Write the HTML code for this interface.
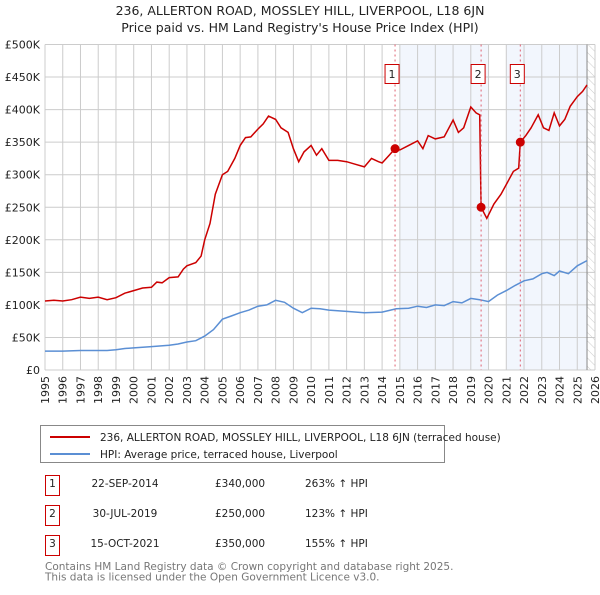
<!DOCTYPE html>
<html><head><meta charset="utf-8"><style>
body{margin:0;background:#fff;font-family:"Liberation Sans","DejaVu Sans",sans-serif;}
svg text{font-family:"DejaVu Sans","Liberation Sans",sans-serif;}
</style></head><body>
<svg id="c" width="600" height="590" xmlns="http://www.w3.org/2000/svg">
<defs><pattern id="hatch" width="6" height="6" patternUnits="userSpaceOnUse" patternTransform="rotate(-45)"><line x1="0" y1="0" x2="0" y2="6" stroke="#ccc" stroke-width="1"/></pattern></defs>
<text x="300" y="15" text-anchor="middle" font-size="12.5" fill="#222">236, ALLERTON ROAD, MOSSLEY HILL, LIVERPOOL, L18 6JN</text>
<text x="300" y="32" text-anchor="middle" font-size="12.5" fill="#222">Price paid vs. HM Land Registry's House Price Index (HPI)</text>
<g id="bg"></g><g id="grid"></g><g id="lines"></g><g id="marks"></g><g id="axes"></g>
<g>
<rect x="40.5" y="425.5" width="404" height="37" fill="#fff" stroke="#888"/>
<line x1="50" y1="437" x2="90" y2="437" stroke="#cc0000" stroke-width="2"/>
<text x="100" y="441" font-size="10.5" fill="#222">236, ALLERTON ROAD, MOSSLEY HILL, LIVERPOOL, L18 6JN (terraced house)</text>
<line x1="50" y1="454" x2="90" y2="454" stroke="#5b8fd4" stroke-width="2"/>
<text x="100" y="458" font-size="10.5" fill="#222">HPI: Average price, terraced house, Liverpool</text>
</g>
<g id="table" font-size="10.5" fill="#222"></g>
<text x="45" y="570" font-size="10.5" fill="#777">Contains HM Land Registry data © Crown copyright and database right 2025.</text>
<text x="45" y="580.5" font-size="10.5" fill="#777">This data is licensed under the Open Government Licence v3.0.</text>
</svg>
<script>
const NS="http://www.w3.org/2000/svg";
const yTicks=[0,50,100,150,200,250,300,350,400,450,500];
const yTickLabels=["£0","£50K","£100K","£150K","£200K","£250K","£300K","£350K","£400K","£450K","£500K"];
const xYears=[1995,1996,1997,1998,1999,2000,2001,2002,2003,2004,2005,2006,2007,2008,2009,2010,2011,2012,2013,2014,2015,2016,2017,2018,2019,2020,2021,2022,2023,2024,2025,2026];
const redT=[1995,1995.5,1996,1996.5,1997,1997.5,1998,1998.5,1999,1999.5,2000,2000.5,2001,2001.3,2001.6,2002,2002.5,2002.8,2003,2003.5,2003.8,2004,2004.3,2004.6,2005,2005.3,2005.7,2006,2006.3,2006.6,2007,2007.3,2007.6,2008,2008.3,2008.7,2009,2009.3,2009.6,2010,2010.3,2010.6,2011,2011.5,2012,2012.5,2013,2013.4,2013.8,2014,2014.4,2014.73,2015,2015.5,2016,2016.3,2016.6,2017,2017.5,2018,2018.3,2018.6,2019,2019.3,2019.5,2019.58,2019.9,2020.3,2020.7,2021,2021.4,2021.7,2021.79,2022.1,2022.4,2022.8,2023.1,2023.4,2023.7,2024,2024.3,2024.6,2025,2025.3,2025.55];
const redV=[106,107,106,108,112,110,112,108,111,118,122,126,127,135,134,142,143,155,160,165,175,200,225,270,300,305,325,345,357,358,370,378,390,385,372,365,340,320,335,345,330,340,322,322,320,316,312,325,320,318,330,340,338,345,352,340,360,355,358,384,365,372,404,395,392,250,233,255,270,285,305,310,350,360,372,392,372,368,395,375,385,405,420,428,438];
const blueT=[1995,1996,1997,1998,1998.5,1999,1999.5,2000,2001,2002,2002.5,2003,2003.5,2004,2004.5,2005,2005.5,2006,2006.5,2007,2007.5,2008,2008.5,2009,2009.5,2010,2010.5,2011,2012,2013,2014,2014.8,2015.5,2016,2016.5,2017,2017.5,2018,2018.5,2019,2019.5,2020,2020.5,2021,2021.5,2022,2022.5,2023,2023.3,2023.7,2024,2024.5,2025,2025.55];
const blueV=[29,29,30,30,30,31,33,34,36,38,40,43,45,52,62,78,83,88,92,98,100,107,104,95,88,95,94,92,90,88,89,94,95,98,96,100,99,105,103,110,108,105,115,122,130,137,140,148,150,145,152,148,160,168];
const saleT=[2014.73,2019.58,2021.79];
const saleV=[340,250,350];
const saleLabels=["1","2","3"];
const saleDates=["22-SEP-2014","30-JUL-2019","15-OCT-2021"];
const salePrices=["£340,000","£250,000","£350,000"];
const saleHpi=["263% ↑ HPI","123% ↑ HPI","155% ↑ HPI"];
const X0=45,X1=595,Y0=370,Y1=44.5,T0=1995,T1=2026,V1=500;
const xs=t=>X0+(t-T0)*(X1-X0)/(T1-T0);
const ys=v=>Y0-v*(Y0-Y1)/V1;
function mk(tag,attrs,parent,txt){const e=document.createElementNS(NS,tag);for(const k in attrs)e.setAttribute(k,attrs[k]);if(txt!==undefined)e.textContent=txt;parent.appendChild(e);return e;}
const bg=document.getElementById('bg'),grid=document.getElementById('grid'),lines=document.getElementById('lines'),marks=document.getElementById('marks'),axes=document.getElementById('axes'),table=document.getElementById('table');
let r=mk('rect',{x:xs(2015),y:Y1,width:xs(2020)-xs(2015),height:Y0-Y1,fill:'#f2f6fd'},bg);

r=mk('rect',{x:xs(2021),y:Y1,width:xs(2025.55)-xs(2021),height:Y0-Y1,fill:'#f2f6fd'},bg);

r=mk('rect',{x:xs(2025.55),y:Y1,width:X1-xs(2025.55),height:Y0-Y1,fill:'url(#hatch)'},bg);

yTicks.forEach((v,i)=>{const l=mk('line',{x1:X0,x2:X1,y1:ys(v),y2:ys(v),stroke:'#ccc'},grid);

const t=mk('text',{x:40,y:ys(v)+4,'text-anchor':'end','font-size':11,fill:'#222'},axes,yTickLabels[i]);
});
xYears.forEach(y=>{const l=mk('line',{x1:xs(y),x2:xs(y),y1:Y1,y2:Y0,stroke:'#ccc'},grid);

const t=mk('text',{x:0,y:0,'text-anchor':'end','font-size':11,fill:'#222',transform:`translate(${xs(y)+4},376) rotate(-90)`},axes,String(y));
});
const vl=mk('line',{x1:xs(2025.55),x2:xs(2025.55),y1:Y1,y2:Y0,stroke:'#888'},grid);

function path(T,V){return T.map((t,i)=>(i?'L':'M')+xs(t).toFixed(1)+','+ys(V[i]).toFixed(1)).join('');}
const bp=mk('path',{d:path(blueT,blueV),fill:'none',stroke:'#5b8fd4','stroke-width':1.5},lines);

const rp=mk('path',{d:path(redT,redV),fill:'none',stroke:'#cc0000','stroke-width':1.5},lines);

saleT.forEach((t,i)=>{const x=xs(t);
const l=mk('line',{x1:x,x2:x,y1:Y1,y2:Y0,stroke:'#e06070','stroke-dasharray':'2,3'},marks);

const b=mk('rect',{x:x-10,y:64.5,width:14,height:19,fill:'#fff',stroke:'#cc0000'},marks);

const tx=mk('text',{x:x-3,y:78,'text-anchor':'middle','font-size':11,fill:'#222'},marks,saleLabels[i]);

const c=mk('circle',{cx:x,cy:ys(saleV[i]),r:4.5,fill:'#cc0000'},marks);

const ry=475+i*30;
const tb=mk('rect',{x:45.5,y:ry+0.5,width:14,height:20,fill:'#fff',stroke:'#cc0000'},table);

const tn=mk('text',{x:52.5,y:ry+12,'text-anchor':'middle'},table,saleLabels[i]);

const td=mk('text',{x:125,y:ry+12,'text-anchor':'middle'},table,saleDates[i]);

const tp=mk('text',{x:215,y:ry+12},table,salePrices[i]);

const th=mk('text',{x:305,y:ry+12},table,saleHpi[i]);
});
</script>
</body></html>
